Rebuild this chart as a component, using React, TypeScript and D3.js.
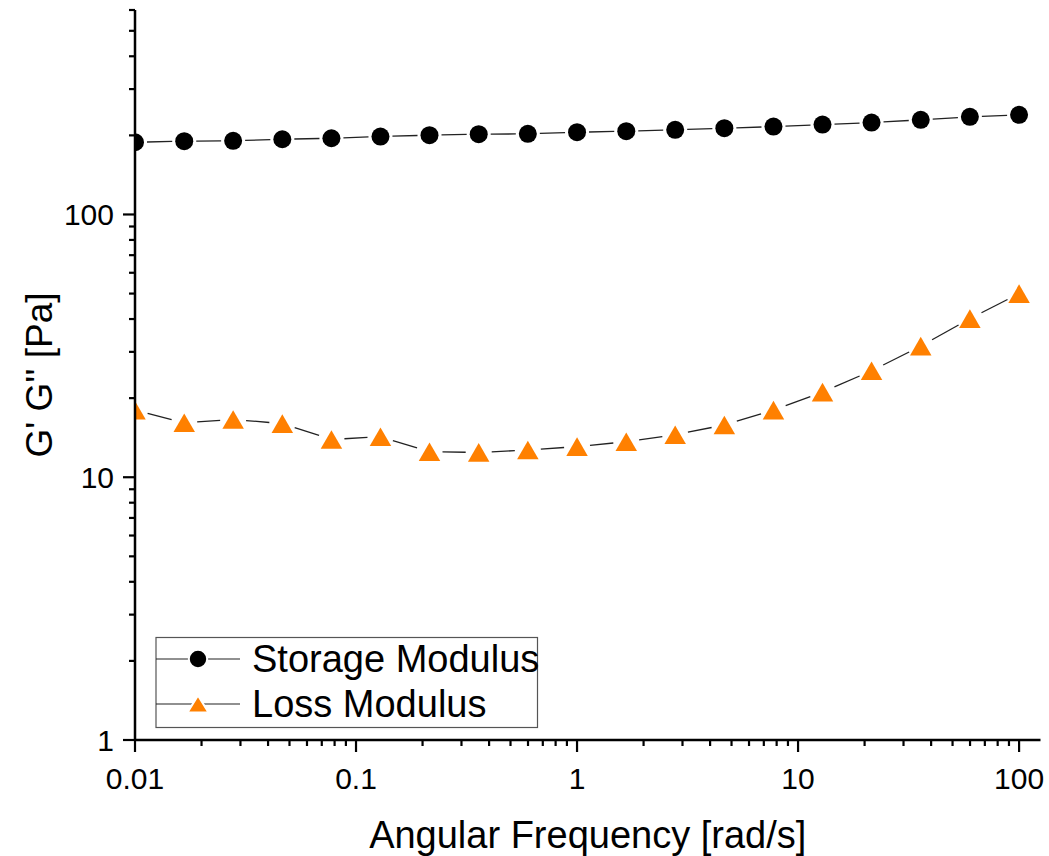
import React from "react";
import * as d3 from "d3";

const frequency = [0.01, 0.0167, 0.0278, 0.0464, 0.0774, 0.129, 0.215, 0.359, 0.599, 1, 1.67, 2.78, 4.64, 7.74, 12.9, 21.5, 35.9, 59.9, 100];
const storageModulus = [188.3, 190.0, 190.6, 193.3, 195.0, 198.0, 200.3, 202.0, 202.7, 205.6, 207.4, 209.9, 212.9, 216.0, 219.9, 223.8, 229.1, 235.2, 239.4];
const lossModulus = [17.98, 16.12, 16.59, 16.0, 13.92, 14.26, 12.5, 12.43, 12.69, 13.08, 13.65, 14.51, 15.81, 18.01, 21.09, 25.41, 31.54, 40.13, 49.99];
const xTickValues = [0.01, 0.1, 1, 10, 100];
const xTickLabels = ["0.01", "0.1", "1", "10", "100"];
const yTickValues = [1, 10, 100];
const yTickLabels = ["1", "10", "100"];
const seriesNames = ["Storage Modulus", "Loss Modulus"];

const W = 1049;
const H = 856;
const left = 135;
const right = 1040.5;
const top = 10;
const bottom = 740;
const FONT = "'Liberation Sans', Arial, sans-serif";
const ORANGE = "#FF8000";

const x = d3.scaleLog().domain([0.01, 125]).range([left, right]);
const y = d3.scaleLog().domain([1, 600]).range([bottom, top]);

function minorTicks(domain: [number, number]) {
  const out: number[] = [];
  for (let e = -3; e <= 3; e++) {
    for (let m = 2; m <= 9; m++) {
      const v = m * Math.pow(10, e);
      if (v >= domain[0] * 0.9999 && v <= domain[1] * 1.0001) out.push(v);
    }
  }
  return out;
}

function triPath(cx: number, cy: number, w = 21.5, h = 18.6) {
  return `M${cx},${cy - h / 2}L${cx + w / 2},${cy + h / 2}L${cx - w / 2},${cy + h / 2}Z`;
}

function gappedSegments(xs: number[], ys: number[], gap: number) {
  const segs: { x1: number; y1: number; x2: number; y2: number }[] = [];
  for (let i = 0; i < xs.length - 1; i++) {
    const ax = x(xs[i]), ay = y(ys[i]);
    const bx = x(xs[i + 1]), by = y(ys[i + 1]);
    const dx = bx - ax, dy = by - ay;
    const len = Math.hypot(dx, dy);
    if (len <= gap * 2) continue;
    const ux = dx / len, uy = dy / len;
    segs.push({ x1: ax + ux * gap, y1: ay + uy * gap, x2: bx - ux * gap, y2: by - uy * gap });
  }
  return segs;
}

export default function App() {
  const xMinor = minorTicks([0.01, 125]);
  const yMinor = minorTicks([1, 600]);
  const sSegs = gappedSegments(frequency, storageModulus, 12);
  const lSegs = gappedSegments(frequency, lossModulus, 13);

  return (
    <svg width={W} height={H} style={{ position: "absolute", left: 0, top: 0, background: "#fff" }} fontFamily={FONT}>
      <defs>
        <clipPath id="plotClip">
          <rect x={left} y={0} width={right - left + 20} height={bottom} />
        </clipPath>
      </defs>
      <rect x={0} y={0} width={W} height={H} fill="#fff" />

      {/* data */}
      <g clipPath="url(#plotClip)">
        {sSegs.map((s, i) => (
          <line key={"s" + i} {...s} stroke="#222" strokeWidth={1.3} />
        ))}
        {lSegs.map((s, i) => (
          <line key={"l" + i} {...s} stroke="#222" strokeWidth={1.3} />
        ))}
        {frequency.map((f, i) => (
          <circle key={"c" + i} cx={x(f)} cy={y(storageModulus[i])} r={9} fill="#000" />
        ))}
        {frequency.map((f, i) => (
          <path key={"t" + i} d={triPath(x(f), y(lossModulus[i]))} fill={ORANGE} />
        ))}
      </g>

      {/* axes */}
      <line x1={left} y1={top} x2={left} y2={bottom + 1} stroke="#000" strokeWidth={2.5} />
      <line x1={left - 1} y1={bottom} x2={right} y2={bottom} stroke="#000" strokeWidth={2.5} />

      {yTickValues.map((v, i) => (
        <g key={"yt" + i}>
          <line x1={left - 12} x2={left} y1={y(v)} y2={y(v)} stroke="#000" strokeWidth={2.2} />
          <text x={114} y={y(v) + 10.5} textAnchor="end" fontSize={30} fill="#000">
            {yTickLabels[i]}
          </text>
        </g>
      ))}
      {yMinor.map((v, i) => (
        <line key={"ym" + i} x1={left - 6} x2={left} y1={y(v)} y2={y(v)} stroke="#000" strokeWidth={2.2} />
      ))}

      {xTickValues.map((v, i) => (
        <g key={"xt" + i}>
          <line x1={x(v)} x2={x(v)} y1={bottom} y2={bottom + 12} stroke="#000" strokeWidth={2.2} />
          <text x={x(v)} y={789} textAnchor="middle" fontSize={30} fill="#000">
            {xTickLabels[i]}
          </text>
        </g>
      ))}
      {xMinor.map((v, i) => (
        <line key={"xm" + i} x1={x(v)} x2={x(v)} y1={bottom} y2={bottom + 6} stroke="#000" strokeWidth={2.2} />
      ))}

      {/* axis titles */}
      <text x={(left + right) / 2} y={848} textAnchor="middle" fontSize={38} fill="#000">
        Angular Frequency [rad/s]
      </text>
      <text transform={`translate(52, ${(top + bottom) / 2}) rotate(-90)`} textAnchor="middle" fontSize={37} fill="#000">
        G' G'' [Pa]
      </text>

      {/* legend */}
      <rect x={156} y={637.5} width={381.5} height={90} fill="#fff" stroke="#555" strokeWidth={1.2} />
      <line x1={156} x2={240} y1={659} y2={659} stroke="#222" strokeWidth={1.2} />
      <line x1={156} x2={240} y1={704} y2={704} stroke="#222" strokeWidth={1.2} />
      <circle cx={198} cy={659} r={9.2} fill="#000" stroke="#fff" strokeWidth={2} />
      <path d={triPath(198, 704, 21, 17)} fill={ORANGE} stroke="#fff" strokeWidth={2} />
      <text x={252} y={672} fontSize={38} fill="#000">{seriesNames[0]}</text>
      <text x={252} y={717} fontSize={38} fill="#000">{seriesNames[1]}</text>
    </svg>
  );
}
